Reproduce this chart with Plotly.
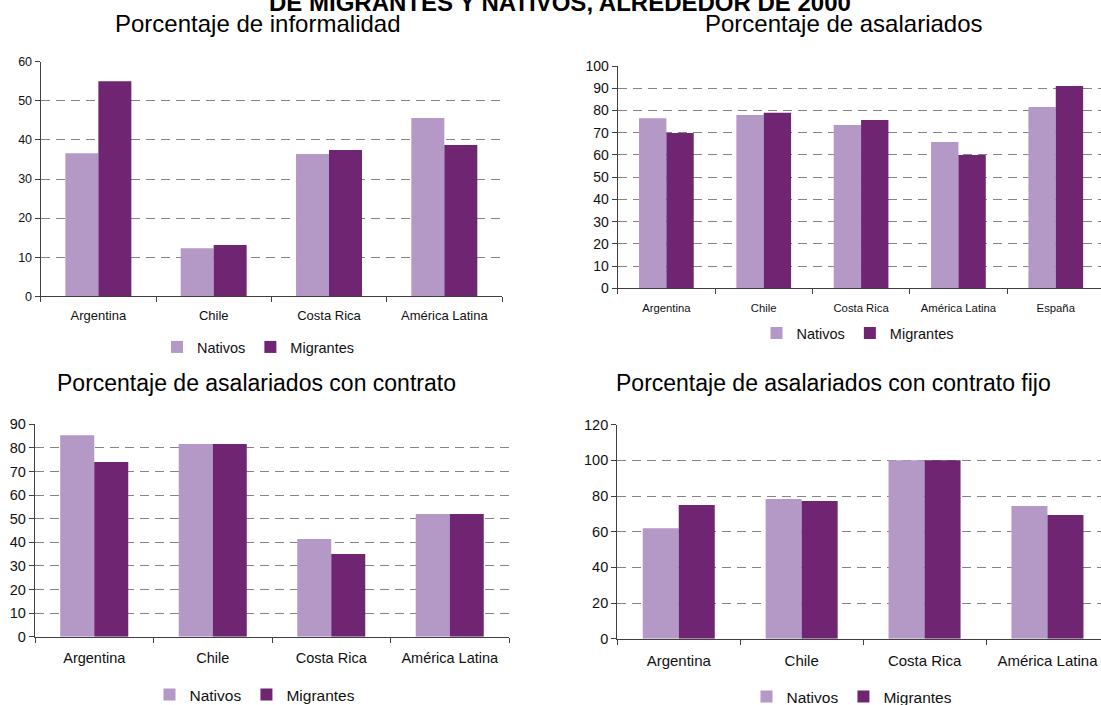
import plotly.graph_objects as go

W, H = 1101, 705

# ---------------- data ----------------
cats_4 = ["Argentina", "Chile", "Costa Rica", "América Latina"]
cats_5 = ["Argentina", "Chile", "Costa Rica", "América Latina", "España"]

informalidad_nativos = [36.6, 12.3, 36.4, 45.6]
informalidad_migrantes = [55.0, 13.1, 37.4, 38.7]

asalariados_nativos = [76.5, 78.0, 73.5, 65.8, 81.6]
asalariados_migrantes = [69.9, 79.0, 75.7, 60.0, 91.0]

contrato_nativos = [85.4, 81.6, 41.4, 52.0]
contrato_migrantes = [74.0, 81.6, 35.0, 52.0]

fijo_nativos = [62.0, 78.3, 100.0, 74.4]
fijo_migrantes = [75.0, 77.2, 100.0, 69.4]

series_names = ["Nativos", "Migrantes"]
main_title = "DE MIGRANTES Y NATIVOS, ALREDEDOR DE 2000"
panel_titles = [
    "Porcentaje de informalidad",
    "Porcentaje de asalariados",
    "Porcentaje de asalariados con contrato",
    "Porcentaje de asalariados con contrato fijo",
]

# ---------------- style ----------------
NAT = "#B498C6"
MIG = "#6F2571"
AXC = "#404040"
GRIDC = "#858585"
FONT = "Liberation Sans, Arial, sans-serif"


def px_x(p):
    return p / W


def px_y(p):
    return 1 - p / H


panels = [
    dict(cats=cats_4, nat=informalidad_nativos, mig=informalidad_migrantes,
         x0=40.7, x1=502, ytop=61.7, ybot=296.3, ymax=60, dtick=10,
         xr=[-0.5, 3.5], half=0.286, tick_fs=12.5, cat_fs=13, standoff=7,
         leg_x=258.5, leg_y=347, leg_fs=14.5),
    dict(cats=cats_5, nat=asalariados_nativos, mig=asalariados_migrantes,
         x0=617.7, x1=1101, ytop=66, ybot=288.3, ymax=100, dtick=10,
         xr=[-0.5, -0.5 + (1101 - 617.7) / 97.35], half=0.281, tick_fs=14, cat_fs=11.3,
         standoff=9, leg_x=858, leg_y=333, leg_fs=14.5),
    dict(cats=cats_4, nat=contrato_nativos, mig=contrato_migrantes,
         x0=35, x1=509, ytop=424.3, ybot=636.7, ymax=90, dtick=10,
         xr=[-0.5, 3.5], half=0.287, tick_fs=14.5, cat_fs=14.5, standoff=8,
         leg_x=255, leg_y=695, leg_fs=15.5),
    dict(cats=cats_4, nat=fijo_nativos, mig=fijo_migrantes,
         x0=617.3, x1=1101, ytop=424.7, ybot=638.7, ymax=120, dtick=20,
         xr=[-0.5, -0.5 + (1101 - 617.3) / 122.9], half=0.293, tick_fs=14.5, cat_fs=15,
         standoff=8, leg_x=852, leg_y=697, leg_fs=15.5),
]

fig = go.Figure()
layout = dict(
    width=W, height=H,
    margin=dict(l=0, r=0, t=0, b=0, pad=0, autoexpand=False),
    paper_bgcolor="white", plot_bgcolor="white",
    barmode="overlay",
    font=dict(family=FONT, color="#000000"),
    showlegend=True,
)

for i, p in enumerate(panels):
    n = i + 1
    xa = "x" if n == 1 else f"x{n}"
    ya = "y" if n == 1 else f"y{n}"
    leg = "legend" if n == 1 else f"legend{n}"
    for name, vals, color, off in [(series_names[0], p["nat"], NAT, -p["half"]),
                                   (series_names[1], p["mig"], MIG, 0.0)]:
        fig.add_trace(go.Bar(
            x=p["cats"], y=vals, name=name, marker=dict(color=color, line=dict(width=0)),
            width=p["half"], offset=off, xaxis=xa, yaxis=ya, legend=leg,
            hoverinfo="x+y+name",
        ))
    xkey = "xaxis" if n == 1 else f"xaxis{n}"
    ykey = "yaxis" if n == 1 else f"yaxis{n}"
    layout[xkey] = dict(
        domain=[px_x(p["x0"]), min(1.0, px_x(p["x1"]))], anchor=ya,
        type="category", range=p["xr"], showgrid=False, zeroline=False,
        showline=True, linecolor=AXC, linewidth=1.3, automargin=False,
        ticks="outside", tickson="boundaries", ticklen=5, tickcolor=AXC, tickwidth=1.3,
        ticklabelstandoff=p["standoff"],
        tickfont=dict(size=p["cat_fs"], color="#111111"),
        fixedrange=True,
    )
    layout[ykey] = dict(
        domain=[px_y(p["ybot"]), px_y(p["ytop"])], anchor=xa,
        range=[0, p["ymax"]], dtick=p["dtick"], tick0=0, automargin=False,
        showgrid=True, gridcolor=GRIDC, griddash="9px,6px", gridwidth=1,
        zeroline=False, showline=True, linecolor=AXC, linewidth=1.3,
        ticks="outside", ticklen=5, tickcolor=AXC, tickwidth=1.3,
        tickfont=dict(size=p["tick_fs"], color="#111111"),
        fixedrange=True,
    )
    layout[leg] = dict(
        orientation="h", x=px_x(p["leg_x"]), xanchor="center",
        y=px_y(p["leg_y"]), yanchor="middle",
        font=dict(size=p["leg_fs"], color="#111111"),
        bgcolor="rgba(0,0,0,0)", itemwidth=30, itemclick=False, itemdoubleclick=False,
    )

annotations = [
    dict(text=f"<b>{main_title}</b>", x=px_x(560), y=px_y(2.5),
         font=dict(family=FONT, size=24, color="#000000")),
    dict(text=panel_titles[0], x=px_x(258), y=px_y(23),
         font=dict(family=FONT, size=24, color="#000000")),
    dict(text=panel_titles[1], x=px_x(844), y=px_y(23),
         font=dict(family=FONT, size=24, color="#000000")),
    dict(text=panel_titles[2], x=px_x(256.5), y=px_y(383.3),
         font=dict(family=FONT, size=23, color="#000000")),
    dict(text=panel_titles[3], x=px_x(833), y=px_y(383.5),
         font=dict(family=FONT, size=23, color="#000000")),
]
for a in annotations:
    a.update(xref="paper", yref="paper", xanchor="center", yanchor="middle",
             showarrow=False)
layout["annotations"] = annotations

fig.update_layout(**layout)
fig.write_html(
    "out.html",
    config={"displayModeBar": False},
    post_script="document.body.style.margin='0';document.body.style.overflow='hidden';",
)
